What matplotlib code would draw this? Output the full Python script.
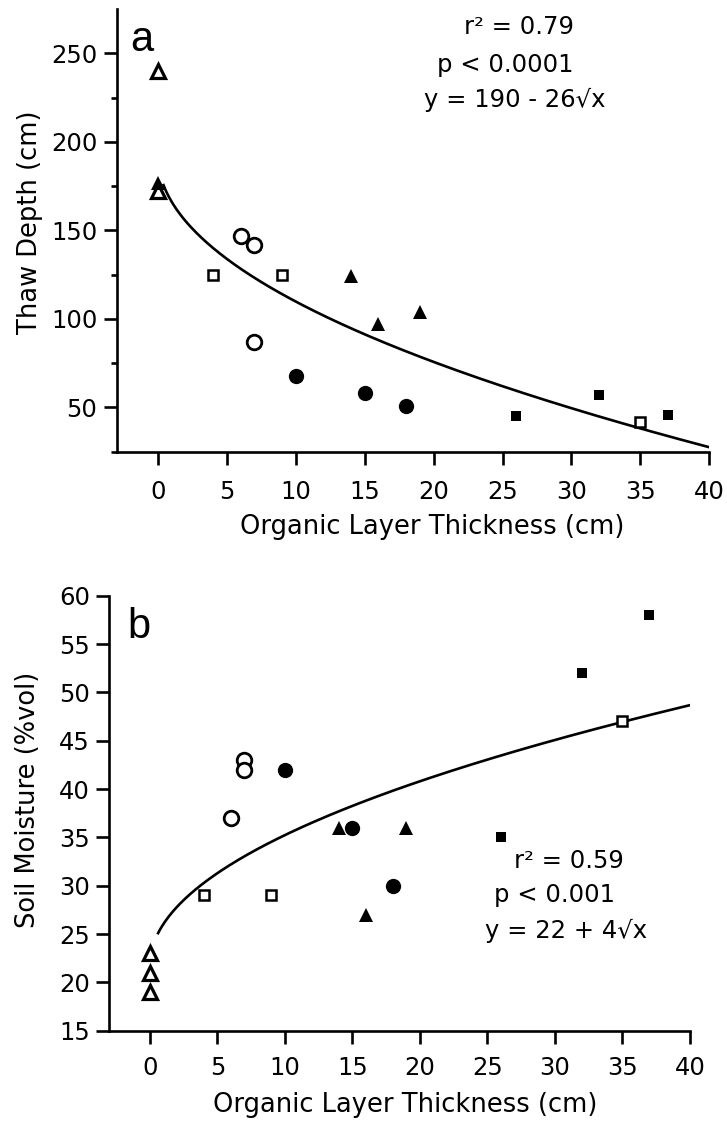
import matplotlib
matplotlib.use("Agg")
import matplotlib.pyplot as plt
import numpy as np

plt.rcParams['font.family'] = ['DejaVu Sans']

# organic layer thickness (cm) / thaw depth (cm), panel a
a_open_tri_x = [0, 0]
a_open_tri_y = [240, 172]
a_fill_tri_x = [0, 14, 16, 19]
a_fill_tri_y = [177, 124, 97, 104]
a_open_circ_x = [6, 7, 7]
a_open_circ_y = [147, 142, 87]
a_fill_circ_x = [10, 15, 18]
a_fill_circ_y = [68, 58, 51]
a_open_sq_x = [4, 9, 35]
a_open_sq_y = [125, 125, 42]
a_fill_sq_x = [26, 32, 37]
a_fill_sq_y = [45, 57, 46]

# organic layer thickness (cm) / soil moisture (%vol), panel b
b_open_tri_x = [0, 0, 0]
b_open_tri_y = [23, 21, 19]
b_fill_tri_x = [14, 16, 19]
b_fill_tri_y = [36, 27, 36]
b_open_circ_x = [6, 7, 7]
b_open_circ_y = [37, 43, 42]
b_fill_circ_x = [10, 15, 18]
b_fill_circ_y = [42, 36, 30]
b_open_sq_x = [4, 9, 35]
b_open_sq_y = [29, 29, 47]
b_fill_sq_x = [26, 32, 37]
b_fill_sq_y = [35, 52, 58]

# sqrt fits as drawn: y = c0 + c1*sqrt(x)
fit_a = (192, -26)
fit_b = (21.8, 4.25)

stats_a = ["r² = 0.79", "p < 0.0001", "y = 190 - 26√x"]
stats_b = ["r² = 0.59", "p < 0.001", "y = 22 + 4√x"]

xticks = [0, 5, 10, 15, 20, 25, 30, 35, 40]

LW = 1.9
TICK_FS = 17.5
LABEL_FS = 18.5
STAT_FS = 17.5


def draw_points(ax, d):
    ot_x, ot_y, ft_x, ft_y, oc_x, oc_y, fc_x, fc_y, os_x, os_y, fs_x, fs_y = d
    ax.plot(ot_x, ot_y, '^', ls='none', mfc='white', mec='black', ms=10.5, mew=2.3, zorder=3)
    ax.plot(ft_x, ft_y, '^', ls='none', color='black', ms=10.5, mew=0, zorder=4)
    ax.plot(oc_x, oc_y, 'o', ls='none', mfc='white', mec='black', ms=10.5, mew=2.0, zorder=3)
    ax.plot(fc_x, fc_y, 'o', ls='none', color='black', ms=11, mew=0, zorder=3)
    ax.plot(os_x, os_y, 's', ls='none', mfc='white', mec='black', ms=7.3, mew=1.8, zorder=3)
    ax.plot(fs_x, fs_y, 's', ls='none', color='black', ms=7.7, mew=0, zorder=3)


def style_axes(ax, ylim, yticks, minor=None, xpad=12):
    ax.set_xlim(-3, 40)
    ax.set_ylim(*ylim)
    for s in ['top', 'right']:
        ax.spines[s].set_visible(False)
    for s in ['left', 'bottom']:
        ax.spines[s].set_linewidth(LW)
    ax.set_xticks(xticks)
    ax.set_yticks(yticks)
    if minor is not None:
        ax.set_yticks(minor, minor=True)
    ax.tick_params(axis='both', which='major', direction='out', length=9.5, width=LW,
                   labelsize=TICK_FS)
    ax.tick_params(axis='y', which='minor', direction='out', length=4.5, width=LW)
    ax.tick_params(axis='y', which='major', pad=4.5)
    ax.tick_params(axis='x', which='major', pad=xpad)


fig = plt.figure(figsize=(7.27, 11.24), dpi=100)

# panel a
ax1 = fig.add_axes([0.1605, 0.5981, 0.815, 0.3939])
draw_points(ax1, [a_open_tri_x, a_open_tri_y, a_fill_tri_x, a_fill_tri_y,
                  a_open_circ_x, a_open_circ_y, a_fill_circ_x, a_fill_circ_y,
                  a_open_sq_x, a_open_sq_y, a_fill_sq_x, a_fill_sq_y])
xa = np.linspace(0.4, 40, 300)
ax1.plot(xa, fit_a[0] + fit_a[1] * np.sqrt(xa), color='black', lw=LW, zorder=2)
style_axes(ax1, (25, 275), [50, 100, 150, 200, 250], minor=[25, 75, 125, 175, 225], xpad=11)
ax1.set_ylabel("Thaw Depth (cm)", fontsize=LABEL_FS, va='center')
ax1.yaxis.set_label_coords(-0.146, 0.519)
ax1.set_xlabel("Organic Layer Thickness (cm)", fontsize=LABEL_FS, va='center')
ax1.xaxis.set_label_coords(0.532, -0.169)
ax1.text(-2.03, 251, "a", fontsize=30, family=['Liberation Sans', 'DejaVu Sans'], va='baseline', ha='left')
for s, (tx, ty) in zip(stats_a, [(26.2, 264.8), (25.2, 243.4), (25.9, 223.6)]):
    ax1.text(tx, ty, s, fontsize=STAT_FS, ha='center', va='center')

# panel b
ax2 = fig.add_axes([0.1506, 0.083, 0.7985, 0.387])
draw_points(ax2, [b_open_tri_x, b_open_tri_y, b_fill_tri_x, b_fill_tri_y,
                  b_open_circ_x, b_open_circ_y, b_fill_circ_x, b_fill_circ_y,
                  b_open_sq_x, b_open_sq_y, b_fill_sq_x, b_fill_sq_y])
xb = np.linspace(0.6, 40, 300)
ax2.plot(xb, fit_b[0] + fit_b[1] * np.sqrt(xb), color='black', lw=LW, zorder=2)
style_axes(ax2, (15, 60), [15, 20, 25, 30, 35, 40, 45, 50, 55, 60], xpad=9)
ax2.set_ylabel("Soil Moisture (%vol)", fontsize=LABEL_FS, va='center')
ax2.yaxis.set_label_coords(-0.140, 0.530)
ax2.set_xlabel("Organic Layer Thickness (cm)", fontsize=LABEL_FS, va='center')
ax2.xaxis.set_label_coords(0.509, -0.171)
ax2.text(-1.68, 55.6, "b", fontsize=30, family=['Liberation Sans', 'DejaVu Sans'], va='baseline', ha='left')
for s, (tx, ty) in zip(stats_b, [(31.0, 32.55), (30.0, 29.07), (30.8, 25.3)]):
    ax2.text(tx, ty, s, fontsize=STAT_FS, ha='center', va='center')

fig.savefig("out.png", dpi=100)
